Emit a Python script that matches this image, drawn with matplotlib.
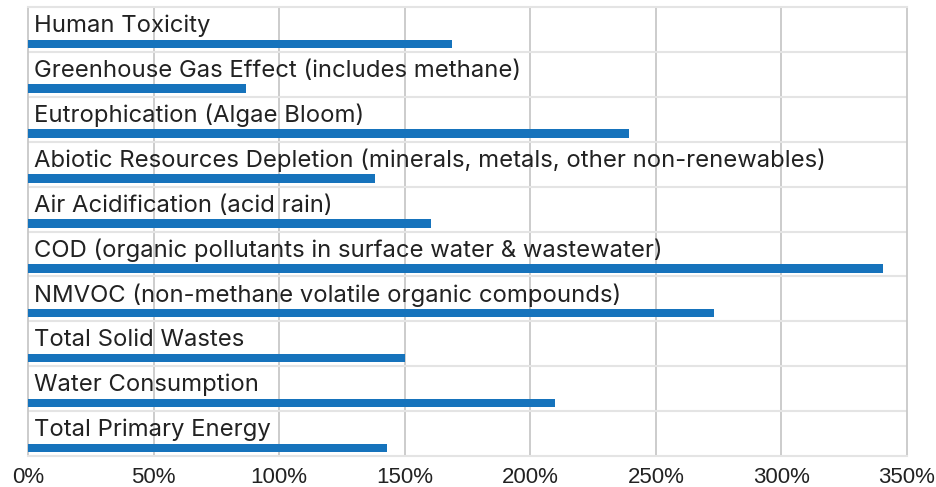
import matplotlib
matplotlib.use("Agg")
import matplotlib.pyplot as plt
import numpy as np

categories = [
    "Human Toxicity",
    "Greenhouse Gas Effect (includes methane)",
    "Eutrophication (Algae Bloom)",
    "Abiotic Resources Depletion (minerals, metals, other non-renewables)",
    "Air Acidification (acid rain)",
    "COD (organic pollutants in surface water & wastewater)",
    "NMVOC (non-methane volatile organic compounds)",
    "Total Solid Wastes",
    "Water Consumption",
    "Total Primary Energy",
]
values = [169, 87, 239.5, 138, 160.5, 340.5, 273, 150, 210, 143]
xticks = [0, 50, 100, 150, 200, 250, 300, 350]
xtick_labels = ["0%", "50%", "100%", "150%", "200%", "250%", "300%", "350%"]

plt.rcParams['font.family'] = ['Liberation Sans', 'DejaVu Sans']

W, H = 937, 487
fig = plt.figure(figsize=(W / 100, H / 100), dpi=100)
left, right, top, bottom = 28, 907, 7, 456
ax = fig.add_axes([left / W, 1 - bottom / H, (right - left) / W, (bottom - top) / H])

n = len(categories)
ax.set_xlim(0, 350)
ax.set_ylim(n, 0)

bar_color = "#1673BC"
pos = np.arange(n) + 0.82
ax.barh(pos, values, height=0.19, color=bar_color, zorder=3)

for i, lab in enumerate(categories):
    ax.text(2.4, i + 0.56, lab, fontsize=17.2, family=["Inter", "DejaVu Sans"],
            color="#222222", va="baseline", ha="left", zorder=4)

ax.set_xticks(xticks)
ax.set_xticklabels(xtick_labels, fontsize=16, color="#222222")
ax.tick_params(axis="x", length=0, pad=8)
ax.set_yticks(np.arange(n + 1))
ax.set_yticklabels([])
ax.tick_params(axis="y", length=0)

for x in xticks[1:-1]:
    ax.axvline(x, color="#c8c8c8", lw=1.3, zorder=1)
for y in range(1, n):
    ax.axhline(y, color="#e4e4e4", lw=1.5, zorder=1)

for s in ["top", "bottom"]:
    ax.spines[s].set_color("#e4e4e4")
    ax.spines[s].set_linewidth(1.5)
for s in ["left", "right"]:
    ax.spines[s].set_color("#c8c8c8")
    ax.spines[s].set_linewidth(1.3)

fig.savefig("out.png", dpi=100, facecolor="white")
